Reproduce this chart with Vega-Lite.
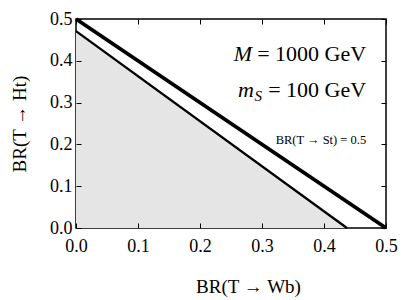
{
  "$schema": "https://vega.github.io/schema/vega-lite/v6.json",
  "autosize": "none",
  "width": 310,
  "height": 209,
  "padding": {"left": 76, "top": 19, "right": 21, "bottom": 72},
  "background": "white",
  "config": {
    "view": {"stroke": "black", "strokeWidth": 1.5},
    "font": "Liberation Serif",
    "axis": {
      "domain": false,
      "grid": false,
      "tickColor": "black",
      "tickWidth": 1,
      "tickSize": -5,
      "labelFont": "Liberation Serif",
      "labelFontSize": 18,
      "labelColor": "black",
      "labelFlush": false,
      "labelOverlap": false,
      "titleFont": "Liberation Serif",
      "titleFontSize": 19,
      "titleFontWeight": "normal",
      "titleColor": "black"
    }
  },
  "datasets": {
    "outer": [{"wb": 0, "ht": 0.5}, {"wb": 0.5, "ht": 0}],
    "inner": [{"wb": 0, "ht": 0.471}, {"wb": 0.437, "ht": 0}],
    "plain": [
      {"label": "= 1000 GeV", "wb": 0.468, "ht": 0.400},
      {"label": "= 100 GeV", "wb": 0.468, "ht": 0.3127}
    ],
    "italic": [
      {"label": "M", "wb": 0.284, "ht": 0.400},
      {"label": "m", "wb": 0.287, "ht": 0.3127}
    ],
    "sub": [{"label": "S", "wb": 0.3, "ht": 0.304}],
    "small": [{"label": "BR(T → St) = 0.5", "wb": 0.468, "ht": 0.201}]
  },
  "layer": [
    {
      "data": {"name": "inner"},
      "mark": {"type": "area", "color": "#e5e5e5", "clip": true},
      "encoding": {
        "x": {"field": "wb", "type": "quantitative", "scale": {"domain": [0, 0.5], "nice": false},
          "axis": {"orient": "bottom", "values": [0, 0.1, 0.2, 0.3, 0.4, 0.5], "format": ".1f", "title": "BR(T → Wb)", "labelPadding": 14, "titlePadding": 22, "titleX": 172, "zindex": 1}},
        "y": {"field": "ht", "type": "quantitative", "scale": {"domain": [0, 0.5], "nice": false},
          "axis": {"orient": "left", "values": [0, 0.1, 0.2, 0.3, 0.4, 0.5], "format": ".1f", "title": "BR(T → Ht)", "labelPadding": 9, "titlePadding": 20, "zindex": 1}}
      }
    },
    {
      "data": {"name": "inner"},
      "mark": {"type": "line", "color": "black", "strokeWidth": 2.3},
      "encoding": {
        "x": {"field": "wb", "type": "quantitative", "axis": {"orient": "top", "values": [0, 0.1, 0.2, 0.3, 0.4, 0.5], "labels": false, "title": null, "zindex": 1}},
        "y": {"field": "ht", "type": "quantitative", "axis": {"orient": "right", "values": [0, 0.1, 0.2, 0.3, 0.4, 0.5], "labels": false, "title": null, "zindex": 1}}
      }
    },
    {
      "data": {"name": "outer"},
      "mark": {"type": "line", "color": "black", "strokeWidth": 3.8},
      "encoding": {
        "x": {"field": "wb", "type": "quantitative", "axis": null},
        "y": {"field": "ht", "type": "quantitative", "axis": null}
      }
    },
    {
      "data": {"name": "plain"},
      "mark": {"type": "text", "align": "right", "baseline": "alphabetic", "fontSize": 22, "font": "Liberation Serif", "color": "black"},
      "encoding": {
        "x": {"field": "wb", "type": "quantitative", "axis": null},
        "y": {"field": "ht", "type": "quantitative", "axis": null},
        "text": {"field": "label"}
      }
    },
    {
      "data": {"name": "italic"},
      "mark": {"type": "text", "align": "right", "baseline": "alphabetic", "fontSize": 22, "font": "Liberation Serif", "fontStyle": "italic", "color": "black"},
      "encoding": {
        "x": {"field": "wb", "type": "quantitative", "axis": null},
        "y": {"field": "ht", "type": "quantitative", "axis": null},
        "text": {"field": "label"}
      }
    },
    {
      "data": {"name": "sub"},
      "mark": {"type": "text", "align": "right", "baseline": "alphabetic", "fontSize": 15, "font": "Liberation Serif", "fontStyle": "italic", "color": "black"},
      "encoding": {
        "x": {"field": "wb", "type": "quantitative", "axis": null},
        "y": {"field": "ht", "type": "quantitative", "axis": null},
        "text": {"field": "label"}
      }
    },
    {
      "data": {"name": "small"},
      "mark": {"type": "text", "align": "right", "baseline": "alphabetic", "fontSize": 12.5, "font": "Liberation Serif", "color": "black"},
      "encoding": {
        "x": {"field": "wb", "type": "quantitative", "axis": null},
        "y": {"field": "ht", "type": "quantitative", "axis": null},
        "text": {"field": "label"}
      }
    }
  ],
  "resolve": {"axis": {"x": "independent", "y": "independent"}}
}
